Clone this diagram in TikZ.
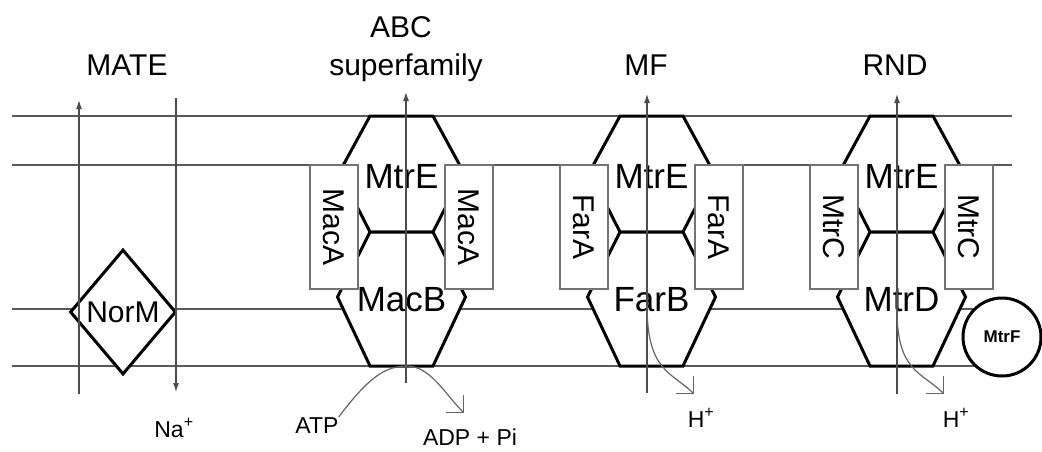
\documentclass[tikz,border=0pt]{standalone}
\usepackage{fontspec}
\setmainfont{Liberation Sans}
\usetikzlibrary{arrows.meta, shapes.geometric}

\begin{document}
\begin{tikzpicture}[
		x=1pt, y=-1pt,
		membrane/.style={draw=black!65, line width=1.5pt},
		pore/.style={draw=black, fill=white, line width=3pt, line join=miter},
		adaptor/.style={rectangle, draw=black!55, fill=white, line width=1.2pt, rotate=-90, inner sep=0pt, minimum width=124pt, minimum height=48pt, font=\fontsize{30}{34}\selectfont},
		subunit/.style={inner sep=0pt, font=\fontsize{35}{40}\selectfont},
		family/.style={inner sep=0pt, anchor=base, font=\fontsize{30}{36}\selectfont},
		solute/.style={inner sep=0pt, anchor=base, font=\fontsize{23}{26}\selectfont},
		flux/.style={draw=black!70, line width=1.2pt, -{Latex[length=9pt, width=6pt]}},
		coupling/.style={draw=black!60, line width=1.2pt, -{Straight Barb[length=12pt, width=24pt]}}
		]
		\useasboundingbox (0, 0) rectangle (1042, 451);
		% membranes
		\draw[membrane] (12, 116) -- (1012, 116);
		\draw[membrane] (12, 165) -- (1012, 165);
		\draw[membrane] (12, 309) -- (1012, 309);
		\draw[membrane] (12, 366) -- (1012, 366);
		% channels
		\draw[pore] (370, 116) -- (433, 116) -- (463.5, 172) -- (433, 232) -- (370, 232) -- (339.5, 172) -- cycle;
		\draw[pore] (370, 232) -- (433, 232) -- (465.5, 297) -- (433, 366) -- (370, 366) -- (337.5, 297) -- cycle;
		\draw[pore] (620, 116) -- (683, 116) -- (713.5, 172) -- (683, 232) -- (620, 232) -- (589.5, 172) -- cycle;
		\draw[pore] (620, 232) -- (683, 232) -- (715.5, 297) -- (683, 366) -- (620, 366) -- (587.5, 297) -- cycle;
		\draw[pore] (870, 116) -- (933, 116) -- (963.5, 172) -- (933, 232) -- (870, 232) -- (839.5, 172) -- cycle;
		\draw[pore] (870, 232) -- (933, 232) -- (965.5, 297) -- (933, 366) -- (870, 366) -- (837.5, 297) -- cycle;
		% periplasmic adaptors
		\node (maca l) at (334, 227) [adaptor] {MacA};
		\node (maca r) at (469, 227) [adaptor] {MacA};
		\node (fara l) at (584, 227) [adaptor] {FarA};
		\node (fara r) at (719, 227) [adaptor] {FarA};
		\node (mtrc l) at (834, 227) [adaptor] {MtrC};
		\node (mtrc r) at (969, 227) [adaptor] {MtrC};
		\node (norm) at (123, 312) [diamond, draw, fill=white, line width=3pt, inner sep=0pt, minimum width=106pt, minimum height=125pt, font=\fontsize{30}{34}\selectfont] {NorM};
		\node (mtrf) at (1002, 337) [circle, draw, fill=white, line width=3pt, inner sep=0pt, minimum size=78pt, font=\fontsize{17}{20}\selectfont\bfseries] {MtrF};
		\node (mtre abc) at (401.5, 177) [subunit] {MtrE};
		\node (mtre mf) at (651.5, 177) [subunit] {MtrE};
		\node (mtre rnd) at (901.5, 177) [subunit] {MtrE};
		\node (macb) at (401.5, 300) [subunit] {MacB};
		\node (farb) at (651.5, 300) [subunit] {FarB};
		\node (mtrd) at (901.5, 300) [subunit] {MtrD};
		% families
		\node (mate) at (127, 75) [family] {MATE};
		\node (abc) at (401, 37) [family] {ABC};
		\node (abc super) at (406, 75) [family] {superfamily};
		\node (mf) at (646, 75) [family] {MF};
		\node (rnd) at (895, 75) [family] {RND};
		% substrates
		\node (na) at (174, 437) [solute] {Na\textsuperscript{+}};
		\node (atp) at (317, 433) [solute] {ATP};
		\node (adp) at (470, 445) [solute] {ADP + Pi};
		\node (h mf) at (701, 427) [solute] {H\textsuperscript{+}};
		\node (h rnd) at (956, 427) [solute] {H\textsuperscript{+}};
		\coordinate (mate in) at (79, 394);
		\coordinate (mate out) at (79, 100);
		\coordinate (na top) at (176, 98);
		\coordinate (na tip) at (176, 392);
		\coordinate (abc in) at (406, 383);
		\coordinate (abc out) at (406, 92);
		\coordinate (mf in) at (647, 393);
		\coordinate (mf out) at (647, 94);
		\coordinate (rnd in) at (897, 394);
		\coordinate (rnd out) at (897, 94);
		\coordinate (atp peak) at (407, 366);
		\coordinate (adp tip) at (464, 413);
		\coordinate (h mf start) at (647, 305);
		\coordinate (h mf tip) at (694, 394);
		\coordinate (h rnd start) at (897, 310);
		\coordinate (h rnd tip) at (944, 394);
		\draw[flux] (mate in) -- (mate out);
		\draw[flux] (na top) -- (na tip);
		\draw[flux] (abc in) -- (abc out);
		\draw[flux] (mf in) -- (mf out);
		\draw[flux] (rnd in) -- (rnd out);
		\draw[coupling] (atp.north east) .. controls (368, 378) and (385, 366) .. (atp peak) .. controls (430, 366) and (445, 394) .. (adp tip);
		\draw[coupling] (h mf start) .. controls (647, 372) and (672, 372) .. (h mf tip);
		\draw[coupling] (h rnd start) .. controls (897, 372) and (922, 372) .. (h rnd tip);
	\end{tikzpicture}
\end{document}
